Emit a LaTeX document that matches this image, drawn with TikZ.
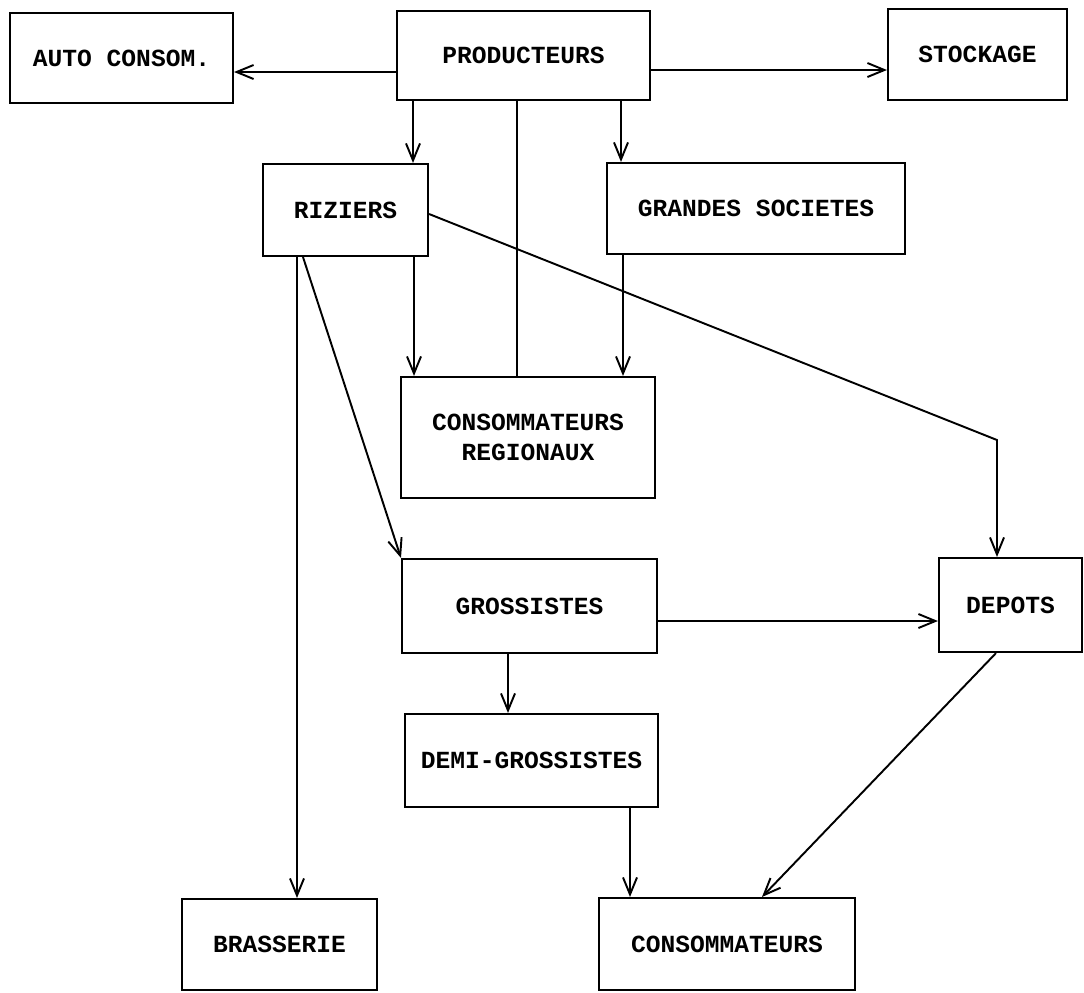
\documentclass[tikz,border=0pt]{standalone}
\usepackage{fontspec}
\setmainfont{Liberation Mono}
\usetikzlibrary{arrows.meta}
\begin{document}
\begin{tikzpicture}[x=0.02cm,y=-0.02cm,
  box/.style={draw, line width=1.2pt, inner sep=0pt, align=center,
    font=\fontsize{14}{17}\selectfont\bfseries},
  link/.style={line width=1.1pt},
  arr/.style={link, -{Straight Barb[length=3.4mm,width=2.8mm,line width=1.1pt]}}]
\useasboundingbox (0,0) rectangle (1084,992);

% boxes: centre and size in pixel units
\node[box, minimum width=4.46cm, minimum height=1.80cm] (auto)  at (121.5,58)  {AUTO CONSOM.};
\node[box, minimum width=5.06cm, minimum height=1.78cm] (prod)  at (523.5,55.5) {PRODUCTEURS};
\node[box, minimum width=3.58cm, minimum height=1.82cm] (stock) at (977.5,54.5) {STOCKAGE};
\node[box, minimum width=3.30cm, minimum height=1.84cm] (riz)   at (345.5,210) {RIZIERS};
\node[box, minimum width=5.96cm, minimum height=1.82cm] (gs)    at (756,208.5) {GRANDES SOCIETES};
\node[box, minimum width=5.08cm, minimum height=2.42cm] (cr)    at (528,437.5) {CONSOMMATEURS\\REGIONAUX};
\node[box, minimum width=5.10cm, minimum height=1.88cm] (gro)   at (529.5,606) {GROSSISTES};
\node[box, minimum width=2.86cm, minimum height=1.88cm] (dep)   at (1010.5,605) {DEPOTS};
\node[box, minimum width=5.06cm, minimum height=1.86cm] (dg)    at (531.5,760.5) {DEMI-GROSSISTES};
\node[box, minimum width=3.90cm, minimum height=1.82cm] (bra)   at (279.5,944.5) {BRASSERIE};
\node[box, minimum width=5.12cm, minimum height=1.84cm] (cons)  at (727,944) {CONSOMMATEURS};

% bend of the RIZIERS -> DEPOTS line
\coordinate (bend) at (997,440);

% connectors from PRODUCTEURS
\draw[arr] (prod.west |- 0,72) -- (auto.east |- 0,72);
\draw[arr] (prod.east |- 0,70) -- (stock.west |- 0,70);
\draw[arr] (413,0 |- prod.south) -- (413,0 |- riz.north);
\draw[arr] (621,0 |- prod.south) -- (621,0 |- gs.north);
\draw[link] (517,0 |- prod.south) -- (517,0 |- cr.north);

% connectors from RIZIERS and GRANDES SOCIETES
\draw[arr] (414,0 |- riz.south) -- (414,0 |- cr.north);
\draw[arr] (623,0 |- gs.south) -- (623,0 |- cr.north);
\draw[arr] ([yshift=-0.08cm]riz.east) -- (bend) -- (bend |- dep.north);
\draw[arr] (303,0 |- riz.south) -- (gro.north west);
\draw[arr] (297,0 |- riz.south) -- (297,0 |- bra.north);

% lower part of the chain
\draw[arr] (gro.east |- 0,621) -- (dep.west |- 0,621);
\draw[arr] (508,0 |- gro.south) -- (508,0 |- dg.north);
\draw[arr] (630,0 |- dg.south) -- (630,0 |- cons.north);
\draw[arr] (996,0 |- dep.south) -- (762,0 |- cons.north);
\end{tikzpicture}
\end{document}
